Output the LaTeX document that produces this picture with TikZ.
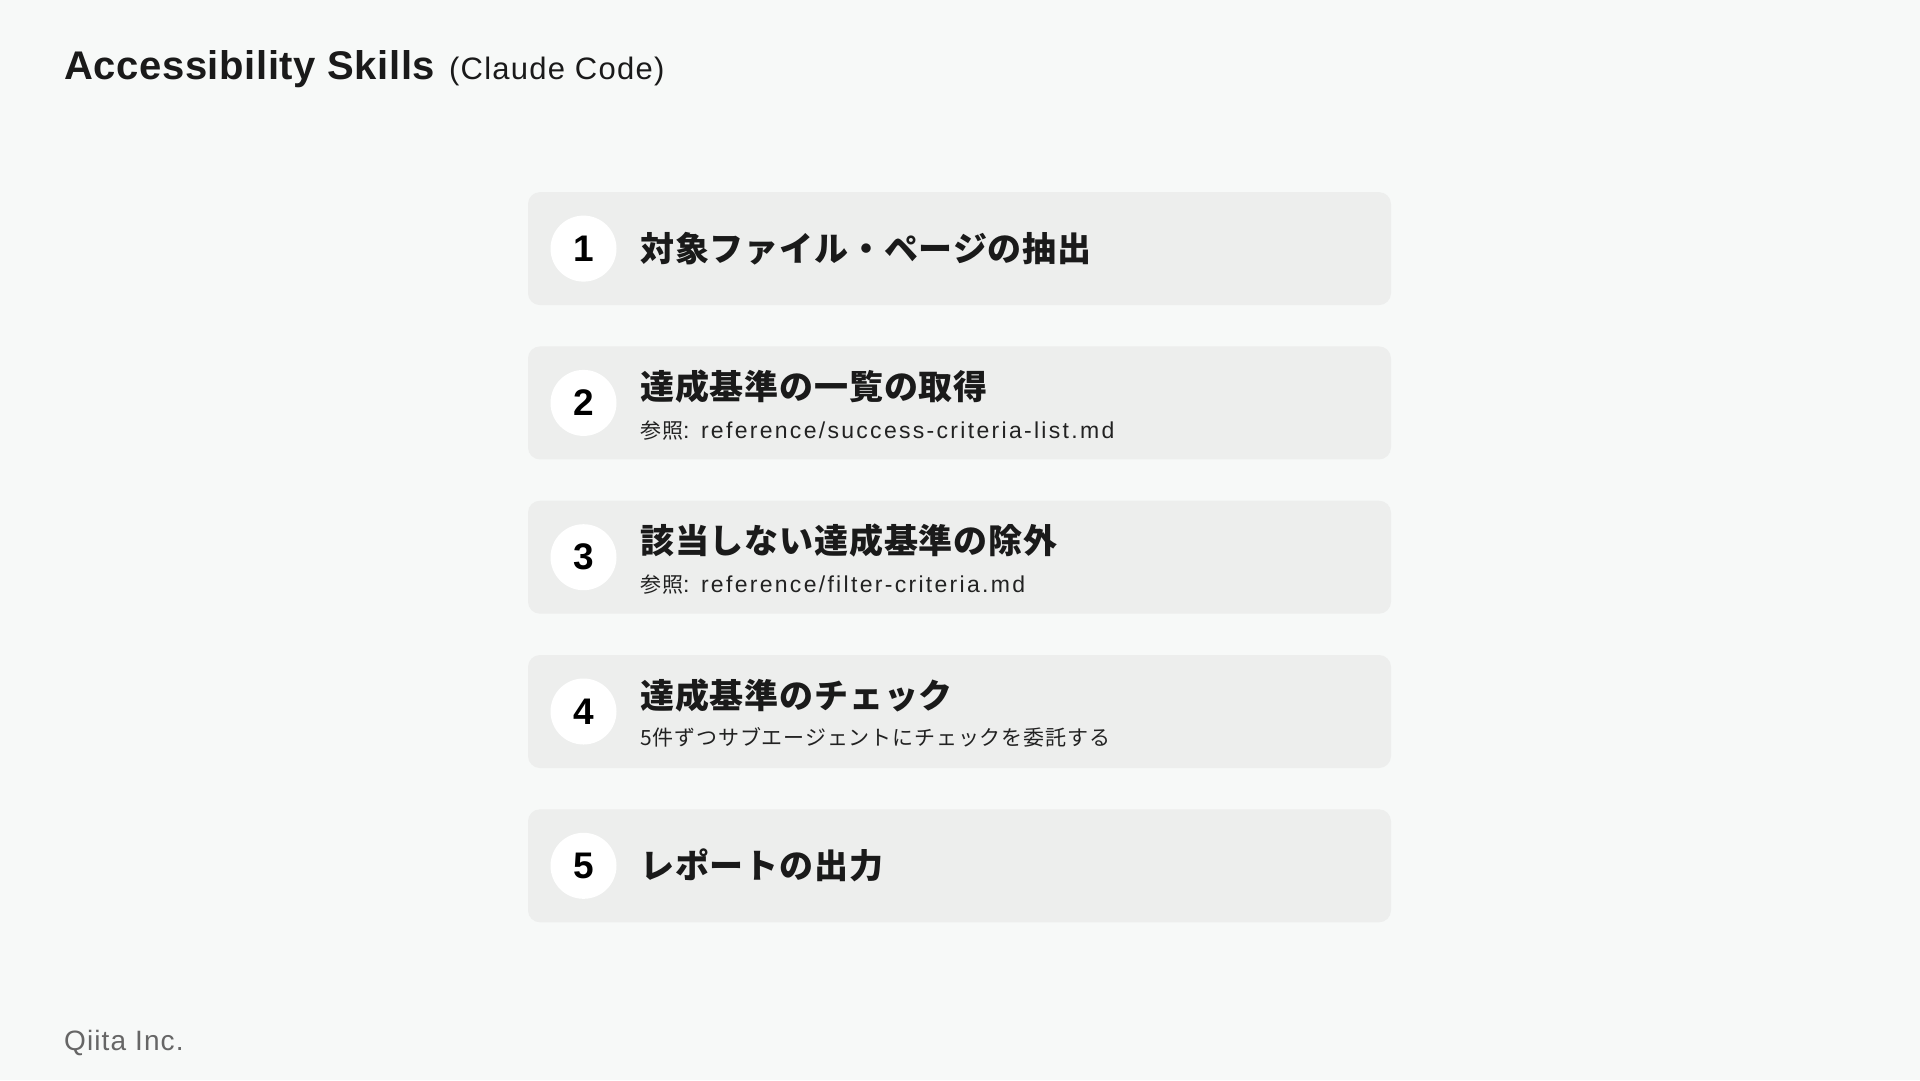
\documentclass[tikz,border=0pt]{standalone}
\usepackage{fontspec}
\setmainfont{Liberation Sans}
\newfontfamily\ttlfont{Liberation Sans}[LetterSpace=1.5]
\newfontfamily\subttlfont{Liberation Sans}[LetterSpace=4]
\newfontfamily\footfont{Liberation Sans}[LetterSpace=4]
\newfontfamily\jpt{Noto Sans CJK JP}[LetterSpace=2.5]
\newfontfamily\jps{Noto Sans CJK JP}[LetterSpace=4]
\newfontfamily\lats{Liberation Sans}[LetterSpace=10]
\definecolor{bg}{HTML}{F7F9F8}
\definecolor{boxfill}{HTML}{EDEEED}
\definecolor{ink}{HTML}{1A1A1A}
\definecolor{subink}{HTML}{222222}
\definecolor{foot}{HTML}{666666}
\tikzset{
  stepbox/.style={fill=boxfill, rounded corners=12pt, minimum width=863pt, minimum height=113pt, inner sep=0pt},
  numcirc/.style={circle, fill=white, minimum size=66pt, inner sep=0pt, text=black, font=\fontsize{37}{40}\selectfont\bfseries},
  steptitle/.style={anchor=west, inner sep=0pt, text=ink, font=\jpt\fontsize{34}{40}\selectfont\bfseries},
  stepsub/.style={anchor=base west, inner sep=0pt, text=subink, font=\jps\fontsize{21}{26}\selectfont},
}
\begin{document}
\begin{tikzpicture}[x=1pt,y=-1pt]
\fill[bg] (0,0) rectangle (1920,1080);
\useasboundingbox (0,0) rectangle (1920,1080);

\node[anchor=base west, inner sep=0pt, text=ink] (title) at (64,79)
  {{\ttlfont\fontsize{40}{46}\selectfont\bfseries Accessibility Skills}\hspace{14pt}{\subttlfont\fontsize{31}{36}\selectfont (Claude Code)}};

% step 1
\node[stepbox] (b1) at (959.5,248.6) {};
\node[numcirc] (c1) at (583.5,248.6) {1};
\node[steptitle] (t1) at (640,248.6) {対象ファイル・ページの抽出};

% step 2
\node[stepbox] (b2) at (959.5,402.9) {};
\node[numcirc] (c2) at (583.5,402.9) {2};
\node[steptitle] (t2) at (640,387) {達成基準の一覧の取得};
\node[stepsub] (s2) at (640,438.5) {参照{\lats\fontsize{23}{26}\selectfont: reference/success-criteria-list.md}};

% step 3
\node[stepbox] (b3) at (959.5,557.2) {};
\node[numcirc] (c3) at (583.5,557.2) {3};
\node[steptitle] (t3) at (640,541) {該当しない達成基準の除外};
\node[stepsub] (s3) at (640,592.5) {参照{\lats\fontsize{23}{26}\selectfont: reference/filter-criteria.md}};

% step 4
\node[stepbox] (b4) at (959.5,711.5) {};
\node[numcirc] (c4) at (583.5,711.5) {4};
\node[steptitle] (t4) at (640,695.5) {達成基準のチェック};
\node[stepsub] (s4) at (640,745) {5件ずつサブエージェントにチェックを委託する};

% step 5
\node[stepbox] (b5) at (959.5,865.8) {};
\node[numcirc] (c5) at (583.5,865.8) {5};
\node[steptitle] (t5) at (640,865.8) {レポートの出力};

\node[anchor=base west, inner sep=0pt, text=foot, font=\footfont\fontsize{28}{32}\selectfont] (foot) at (64,1050) {Qiita Inc.};
\end{tikzpicture}
\end{document}
